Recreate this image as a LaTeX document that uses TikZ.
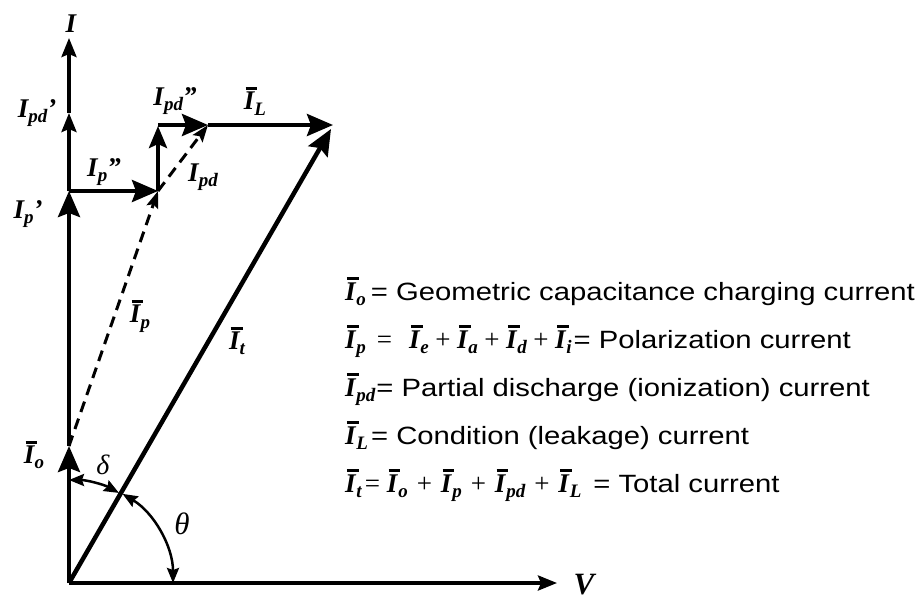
\documentclass[tikz,border=0pt]{standalone}
\usepackage{fontspec}
\setmainfont{Liberation Serif}
\newfontfamily\lgdfont[FakeStretch=1.17]{Liberation Sans}
\usetikzlibrary{arrows.meta}
\newcommand{\ovI}{\leavevmode\rlap{\kern0.06em\rule[0.74em]{0.44em}{0.1em}}\textbf{\textit{I}}}
\newcommand{\sbs}[1]{\raisebox{-0.2em}{\fontsize{19}{19}\selectfont\bfseries\itshape #1}}
\newcommand{\lgdtxt}[1]{{\lgdfont\fontsize{25}{25}\selectfont #1}}
\newcommand{\plsa}{\hspace{6.5pt}+\hspace{6.5pt}}
\newcommand{\plsb}{\hspace{9pt}+\hspace{9pt}}
\tikzset{
  lbl/.style={inner sep=0pt, font=\fontsize{27}{27}\selectfont\bfseries\itshape},
  lgd/.style={inner sep=0pt, anchor=base west, font=\fontsize{27}{27}\selectfont},
  vec/.style={line width=4pt, -{Stealth[length=26pt,width=22pt,inset=4pt]}},
  vecm/.style={line width=4pt, -{Stealth[length=22pt,width=18pt,inset=4pt]}},
  axis/.style={line width=3.5pt, -{Stealth[length=19pt,width=15pt,inset=3pt]}},
  dsh/.style={line width=3pt, dash pattern=on 11pt off 7pt, -{Stealth[length=17pt,width=12pt,inset=3pt]}},
  ang/.style={line width=2.5pt, {Stealth[length=15pt,width=12pt,inset=2pt]}-{Stealth[length=15pt,width=12pt,inset=2pt]}}
}
\begin{document}
\begin{tikzpicture}[x=1pt,y=-1pt]
\useasboundingbox (0,0) rectangle (924,603);
% key points
\coordinate (O) at (69,583);
\coordinate (Io) at (69,446);
\coordinate (Ipp) at (69,191);
\coordinate (Ipdp) at (69,113);
\coordinate (Itop) at (69,38);
\coordinate (Vend) at (557,583);
\coordinate (A) at (158,191);
\coordinate (B) at (158,126);
\coordinate (Bs) at (158,125);
\coordinate (C) at (208,125);
\coordinate (D) at (333,125);
\coordinate (Dt) at (331,129);
% axes
\draw[axis] (O) -- (Vend);
\draw[axis] (Ipdp) -- (Itop);
\draw[vec] (O) -- (Io);
\draw[vec] (Io) -- (Ipp);
\draw[axis] (Ipp) -- (Ipdp);
% component vectors
\draw[vec] (Ipp) -- (A);
\draw[vecm] (A) -- (B);
\draw[vec] (Bs) -- (C);
\draw[vec] (C) -- (D);
\draw[vec, line width=4.5pt] (O) -- (Dt);
% dashed
\draw[dsh] (Io) -- (A);
\draw[dsh] (A) -- (C);
% angle arcs
\draw[ang] ([shift={(-90:103)}]O) arc[start angle=-90, end angle=-61, radius=103];
\draw[ang] ([shift={(-59:104)}]O) arc[start angle=-59, end angle=0, radius=104];
% labels
\node[lbl] (lI) at (71,24) {I};
\node[lbl] (lIpdp) at (37,113) {I\sbs{pd}’};
\node[lbl] (lIppp) at (104,172) {I\sbs{p}”};
\node[lbl] (lIpp) at (28,214) {I\sbs{p}’};
\node[lbl] (lIpdpp) at (175,101) {I\sbs{pd}”};
\node[lbl] (lIL) at (255,101) {\ovI\sbs{L}};
\node[lbl] (lIpd) at (203,177) {I\sbs{pd}};
\node[lbl] (lIp) at (140,316) {\ovI\sbs{p}};
\node[lbl] (lIt) at (237,341) {\ovI\sbs{t}};
\node[lbl] (lIo) at (34,455) {\ovI\sbs{o}};
\node[lbl, font=\fontsize{28}{28}\selectfont\itshape] (ldelta) at (103,465) {δ};
\node[lbl, font=\fontsize{31}{31}\selectfont\itshape] (ltheta) at (182,524) {θ};
\node[lbl, font=\fontsize{31}{31}\selectfont\bfseries\itshape] (lV) at (584,585) {V};
% legend
\node[lgd] (g1) at (345,300) {\ovI\sbs{o}\hspace{5pt}\lgdtxt{= Geometric capacitance charging current}};
\node[lgd] (g2) at (345,348) {\ovI\sbs{p}\hspace{11pt}=\hspace{17pt}\ovI\sbs{e}\plsa\ovI\sbs{a}\plsa\ovI\sbs{d}\plsa\ovI\sbs{i}\hspace{2pt}\lgdtxt{= Polarization current}};
\node[lgd] (g3) at (345,396) {\ovI\sbs{pd}\hspace{1pt}\lgdtxt{= Partial discharge (ionization) current}};
\node[lgd] (g4) at (345,444) {\ovI\sbs{L}\hspace{3pt}\lgdtxt{= Condition (leakage) current}};
\node[lgd] (g5) at (345,492) {\ovI\sbs{t}\hspace{3pt}=\hspace{7pt}\ovI\sbs{o}\plsb\ovI\sbs{p}\plsb\ovI\sbs{pd}\plsb\ovI\sbs{L}\hspace{12pt}\lgdtxt{= Total current}};
\end{tikzpicture}
\end{document}
